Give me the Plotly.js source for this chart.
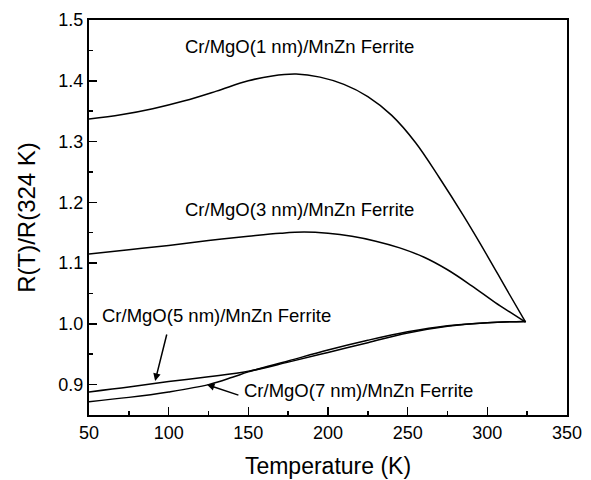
<!DOCTYPE html>
<html>
<head>
<meta charset="utf-8">
<script src="https://cdn.plot.ly/plotly-3.0.1.min.js"></script>
<style>html,body{margin:0;padding:0;background:#fff;}#chart{width:591px;height:480px;}</style>
</head>
<body>
<div id="chart"></div>
<script>
// Temperature (K) and normalized resistance R(T)/R(324 K)
const T1 = [50, 70, 90, 110, 130, 150, 165, 180, 195, 210, 225, 240, 255, 270, 285, 300, 312, 324];
const R1 = [1.337, 1.344, 1.354, 1.367, 1.383, 1.400, 1.408, 1.411, 1.406, 1.394, 1.374, 1.343, 1.298, 1.240, 1.178, 1.112, 1.057, 1.003];

const T3 = [50, 75, 100, 125, 150, 170, 185, 200, 215, 230, 245, 260, 275, 290, 305, 315, 324];
const R3 = [1.115, 1.122, 1.129, 1.137, 1.144, 1.149, 1.151, 1.149, 1.144, 1.136, 1.125, 1.110, 1.089, 1.063, 1.035, 1.018, 1.003];

const T5 = [50, 75, 100, 125, 150, 175, 200, 225, 250, 275, 300, 324];
const R5 = [0.888, 0.896, 0.905, 0.913, 0.922, 0.937, 0.953, 0.969, 0.985, 0.996, 1.002, 1.004];

const T7 = [50, 75, 100, 125, 140, 150, 175, 200, 225, 250, 275, 300, 324];
const R7 = [0.872, 0.879, 0.888, 0.900, 0.912, 0.921, 0.939, 0.957, 0.973, 0.987, 0.997, 1.002, 1.004];

const seriesNames = ["Cr/MgO(1 nm)/MnZn Ferrite", "Cr/MgO(3 nm)/MnZn Ferrite", "Cr/MgO(5 nm)/MnZn Ferrite", "Cr/MgO(7 nm)/MnZn Ferrite"];
const xTickVals = [50, 100, 150, 200, 250, 300, 350];
const yTickVals = [0.9, 1.0, 1.1, 1.2, 1.3, 1.4, 1.5];
const yTickText = ["0.9", "1.0", "1.1", "1.2", "1.3", "1.4", "1.5"];

const FONT = "Liberation Sans, Arial, sans-serif";
const line = {color: "#000", width: 1.5, shape: "spline", smoothing: 1};

const data = [
  {x: T1, y: R1, name: seriesNames[0], mode: "lines", line: line},
  {x: T3, y: R3, name: seriesNames[1], mode: "lines", line: line},
  {x: T5, y: R5, name: seriesNames[2], mode: "lines", line: line},
  {x: T7, y: R7, name: seriesNames[3], mode: "lines", line: line}
];

const axisCommon = {
  showline: true, mirror: true, linecolor: "#000", linewidth: 2,
  ticks: "inside", ticklen: 8, tickwidth: 1.5, tickcolor: "#000",
  showgrid: false, zeroline: false,
  tickfont: {family: FONT, size: 18, color: "#000"}
};

const annFont = {family: FONT, size: 18.5, color: "#000"};

const layout = {
  width: 591, height: 480,
  margin: {l: 89, r: 24, t: 20, b: 65},
  paper_bgcolor: "#fff", plot_bgcolor: "#fff",
  showlegend: false,
  font: {family: FONT, color: "#000"},
  xaxis: Object.assign({}, axisCommon, {
    range: [50, 350], tickvals: xTickVals,
    minor: {ticks: "inside", dtick: 25, tick0: 25, ticklen: 4, tickcolor: "#000", tickwidth: 1.5},
    title: {text: "Temperature (K)", font: {family: FONT, size: 23, color: "#000"}, standoff: 16}
  }),
  yaxis: Object.assign({}, axisCommon, {
    range: [0.85, 1.5], tickvals: yTickVals, ticktext: yTickText,
    minor: {ticks: "inside", dtick: 0.05, tick0: 0.85, ticklen: 4, tickcolor: "#000", tickwidth: 1.5},
    title: {text: "R(T)/R(324 K)", font: {family: FONT, size: 24, color: "#000"}, standoff: 16}
  }),
  annotations: [
    {x: 182, y: 1.456, xref: "x", yref: "y", text: seriesNames[0], showarrow: false, font: annFont},
    {x: 182, y: 1.188, xref: "x", yref: "y", text: seriesNames[1], showarrow: false, font: annFont},
    {x: 130, y: 1.013, xref: "x", yref: "y", text: seriesNames[2], showarrow: false, font: annFont},
    {x: 219, y: 0.890, xref: "x", yref: "y", text: seriesNames[3], showarrow: false, font: annFont},
    {x: 91.5, y: 0.906, xref: "x", yref: "y", text: "", showarrow: true, ax: 12, ay: -48, arrowhead: 2, arrowsize: 1, arrowwidth: 1.5, arrowcolor: "#000"},
    {x: 124, y: 0.900, xref: "x", yref: "y", text: "", showarrow: true, ax: 33, ay: 11, arrowhead: 2, arrowsize: 1, arrowwidth: 1.5, arrowcolor: "#000"}
  ]
};

Plotly.newPlot("chart", data, layout, {staticPlot: true, displayModeBar: false});
</script>
</body>
</html>
